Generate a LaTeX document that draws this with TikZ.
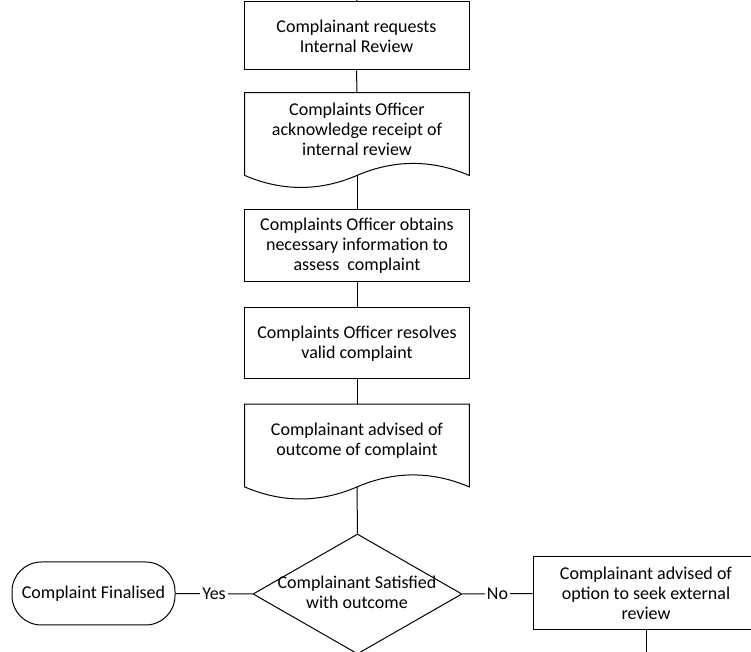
\documentclass[tikz,border=0pt]{standalone}
\usepackage{fontspec}
\setmainfont{Carlito}
\usepackage{tikz}
\usetikzlibrary{calc}
\usetikzlibrary{shapes.geometric}

\tikzset{
  flow/.style={font=\fontsize{13.5pt}{15pt}\selectfont, align=center, inner sep=0pt},
  process/.style={flow, draw, line width=0.75pt, minimum width=168.75pt, minimum height=53.25pt},
  docbox/.style={flow, minimum width=168pt, minimum height=55pt},
  decision/.style={diamond, draw, line width=0.75pt, minimum width=156.75pt, minimum height=90pt, inner sep=0pt},
  terminal/.style={flow, draw, line width=0.75pt, rounded corners=22pt, minimum width=122.25pt, minimum height=47.25pt},
  conn/.style={line width=0.75pt},
  answer/.style={flow, fill=white, inner sep=1.5pt}
}

\newcommand{\docwave}[1]{%
  \draw[conn] ($(#1.south west)+(0,-9)$) -- (#1.north west) -- (#1.north east)
    -- ($(#1.south east)+(0,-9)$) .. controls +(-37,16) and +(37,16) .. ($(#1.south)+(0,-9)$)
    .. controls +(-37,-16) and +(37,-16) .. ($(#1.south west)+(0,-9)$) -- cycle;
  \coordinate (#1 wave) at ($(#1.south)+(0,-9)$);}

\begin{document}
\begin{tikzpicture}[x=0.75pt,y=0.75pt]
    \path[use as bounding box, fill=white] (0,0) rectangle (751,-652);

    \coordinate (top) at (357,0);
    \node[process, minimum height=51pt] (request) at (356.5,-36) {Complainant requests\\Internal Review};
    \node[docbox] (ack) at (357,-129.5) {Complaints Officer\\acknowledge receipt of\\internal review};
    \docwave{ack}
    \node[process, minimum height=54pt] (obtain) at (357,-246) {Complaints Officer obtains\\necessary information to\\assess\ \ complaint};
    \node[process] (resolve) at (357,-343.5) {Complaints Officer resolves\\valid complaint};
    \node[docbox] (advise) at (357,-441) {Complainant advised of\\outcome of complaint};
    \docwave{advise}

    \node[decision] (sat) at (357.5,-594) {};
    \node[flow] (satq) at (357,-592) {Complainant Satisfied\\with outcome};
    \node[terminal] (final) at (93.5,-593.5) {Complaint Finalised};
    \node[process, minimum width=169.5pt, minimum height=54.75pt] (external) at (646,-593.5) {Complainant advised of\\option to seek external\\review};
    \coordinate (bottom) at (646,-652);

    \draw[conn] (top) -- (request.north);
    \draw[conn] (request.south) -- (ack.north);
    \draw[conn] (ack wave) -- (obtain.north);
    \draw[conn] (obtain.south) -- (resolve.north);
    \draw[conn] (resolve.south) -- (advise.north);
    \draw[conn] (advise wave) -- (sat.north);
    \draw[conn] (sat.west) -- node[answer]{Yes} (final.east);
    \draw[conn] (sat.east) -- node[answer]{No} (external.west);
    \draw[conn] (external.south) -- (bottom);
\end{tikzpicture}
\end{document}
